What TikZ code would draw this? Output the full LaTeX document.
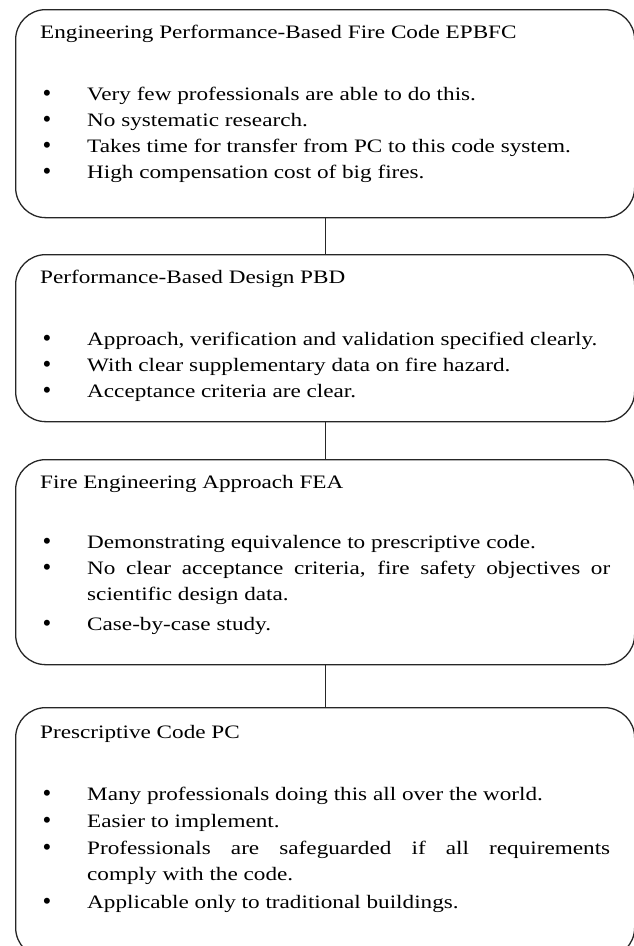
\documentclass[tikz,border=0pt]{standalone}
\usepackage{fontspec}
\setmainfont{Liberation Serif}[FakeStretch=1.22]
\newfontfamily\bulfont{Liberation Serif}
\begin{document}
\begin{tikzpicture}[x=1pt,y=-1pt,
  box/.style={draw=black!85, line width=1.3pt, rounded corners=30pt, inner sep=0pt, anchor=north west, minimum width=619pt},
  ttl/.style={anchor=base west, inner sep=0pt, font=\fontsize{19}{22}\selectfont},
  itm/.style={anchor=base west, inner sep=0pt, font=\fontsize{19}{22}\selectfont},
  bul/.style={anchor=base, inner sep=0pt, font=\bulfont\fontsize{25}{28}\selectfont},
  conn/.style={draw=black!85, line width=1.3pt}]
\useasboundingbox (0,0) rectangle (633,946);
% boxes
\node[box, minimum height=208pt] (b1) at (15,9) {};
\node[box, minimum height=167pt] (b2) at (15,254) {};
\node[box, minimum height=205pt] (b3) at (15,459) {};
\node[box, minimum height=250pt] (b4) at (15,707) {};
\draw[conn] (b1.south) -- (b2.north);
\draw[conn] (b2.south) -- (b3.north);
\draw[conn] (b3.south) -- (b4.north);
% box 1
\node[ttl] (t1) at (40,38) {Engineering Performance-Based Fire Code EPBFC};
\node[bul] (p1a) at (47,101) {•}; \node[itm] (i1a) at (87,100) {Very few professionals are able to do this.};
\node[bul] (p1b) at (47,127) {•}; \node[itm] (i1b) at (87,126) {No systematic research.};
\node[bul] (p1c) at (47,153) {•}; \node[itm] (i1c) at (87,152) {Takes time for transfer from PC to this code system.};
\node[bul] (p1d) at (47,179) {•}; \node[itm] (i1d) at (87,178) {High compensation cost of big fires.};
% box 2
\node[ttl] (t2) at (40,283) {Performance-Based Design PBD};
\node[bul] (p2a) at (47,346) {•}; \node[itm] (i2a) at (87,345) {Approach, verification and validation specified clearly.};
\node[bul] (p2b) at (47,372) {•}; \node[itm] (i2b) at (87,371) {With clear supplementary data on fire hazard.};
\node[bul] (p2c) at (47,398) {•}; \node[itm] (i2c) at (87,397) {Acceptance criteria are clear.};
% box 3
\node[ttl] (t3) at (40,488) {Fire Engineering Approach FEA};
\node[bul] (p3a) at (47,549) {•}; \node[itm] (i3a) at (87,548) {Demonstrating equivalence to prescriptive code.};
\node[bul] (p3b) at (47,575) {•}; \node[itm] (i3b) at (87,574) {\makebox[523pt][s]{No clear acceptance criteria, fire safety objectives or}};
\node[itm] (i3b2) at (87,600) {scientific design data.};
\node[bul] (p3c) at (47,631) {•}; \node[itm] (i3c) at (87,630) {Case-by-case study.};
% box 4
\node[ttl] (t4) at (40,738) {Prescriptive Code PC};
\node[bul] (p4a) at (47,801) {•}; \node[itm] (i4a) at (87,800) {Many professionals doing this all over the world.};
\node[bul] (p4b) at (47,828) {•}; \node[itm] (i4b) at (87,827) {Easier to implement.};
\node[bul] (p4c) at (47,855) {•}; \node[itm] (i4c) at (87,854) {\makebox[523pt][s]{Professionals are safeguarded if all requirements}};
\node[itm] (i4c2) at (87,880) {comply with the code.};
\node[bul] (p4d) at (47,909) {•}; \node[itm] (i4d) at (87,908) {Applicable only to traditional buildings.};
\end{tikzpicture}
\end{document}
